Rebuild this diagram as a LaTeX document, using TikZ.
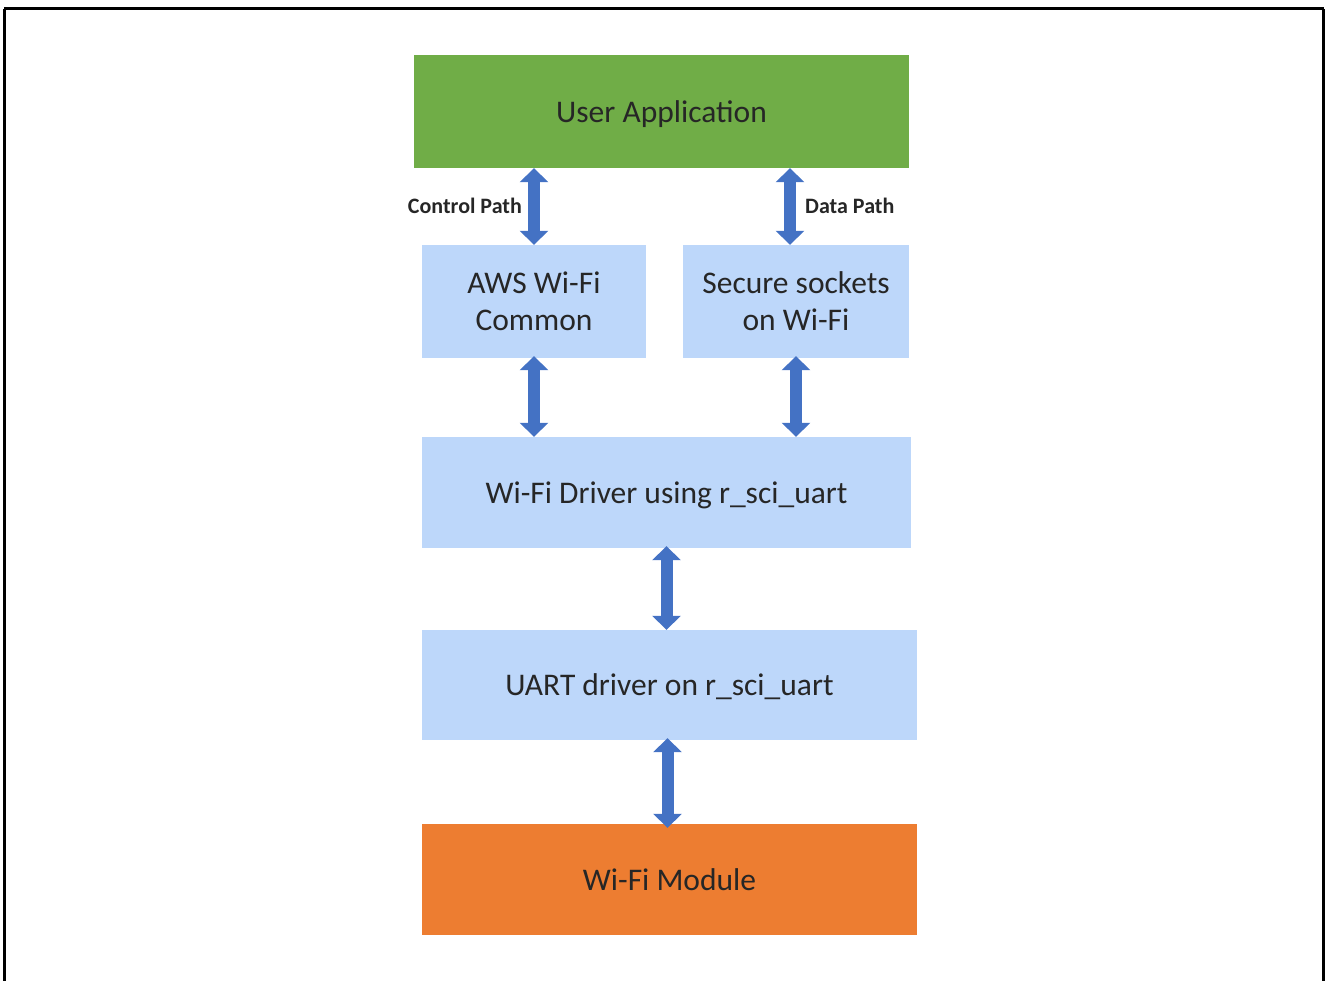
\documentclass[tikz,border=0pt]{standalone}
\usepackage{fontspec}
\setmainfont{Carlito}
\usetikzlibrary{arrows.meta}
\definecolor{appgreen}{RGB}{112,173,71}
\definecolor{boxblue}{RGB}{189,215,250}
\definecolor{modorange}{RGB}{237,125,49}
\definecolor{arrblue}{RGB}{68,114,196}

\begin{document}
\begin{tikzpicture}[x=1pt,y=-1pt]
  \tikzstyle{blk} = [draw=none, inner sep=0pt, align=center, minimum height=112pt,
    font=\fontsize{31.5}{37}\selectfont, text=black!85]
  \tikzstyle{one} = [text depth=0pt]
  \tikzstyle{lbl} = [inner sep=0pt, font=\fontsize{22}{24}\selectfont\bfseries, text=black!85]
  \tikzstyle{arr} = [draw=arrblue, line width=12pt,
    {Triangle[width=28pt,length=14pt]}-{Triangle[width=28pt,length=14pt]}]
  \useasboundingbox (0,0) rectangle (1325,981);
  \draw[line width=3pt] (4,9) -- (1323.5,9);
  \draw[line width=3pt] (4,9) -- (4,1000);
  \draw[line width=3pt] (1323.5,9) -- (1323.5,1000);

  \node[blk, one, fill=appgreen, minimum width=495pt, minimum height=113pt](app) at (661.5,111.5){User Application};
  \node[blk, fill=boxblue, minimum width=224pt, minimum height=113pt](aws) at (534,301.5){AWS Wi-Fi\\Common};
  \node[blk, fill=boxblue, minimum width=226pt, minimum height=113pt](sock) at (796,301.5){Secure sockets\\on Wi-Fi};
  \node[blk, one, fill=boxblue, minimum width=489pt, minimum height=111pt](drv) at (666.5,492.5){Wi-Fi Driver using r\_sci\_uart};
  \node[blk, one, fill=boxblue, minimum width=495pt, minimum height=110pt](uart) at (669.5,685){UART driver on r\_sci\_uart};
  \node[blk, one, fill=modorange, minimum width=495pt, minimum height=111pt](mod) at (669.5,879.5){Wi-Fi Module};

  \node[lbl, anchor=east](ctl) at (522,206){Control Path};
  \node[lbl, anchor=west](dat) at (805,206){Data Path};

  \draw[arr] (aws.north |- app.south) -- (aws.north);
  \draw[arr] ([xshift=-6pt]sock.north |- app.south) -- ([xshift=-6pt]sock.north);
  \draw[arr] ([yshift=2pt]aws.south) -- (aws.south |- drv.north);
  \draw[arr] ([yshift=2pt]sock.south) -- (sock.south |- drv.north);
  \draw[arr] ([yshift=2pt]drv.south) -- (drv.south |- uart.north);
  \draw[arr] ([xshift=-2pt,yshift=2pt]uart.south) -- ([xshift=-2pt,yshift=-4pt]mod.north);
\end{tikzpicture}
\end{document}
